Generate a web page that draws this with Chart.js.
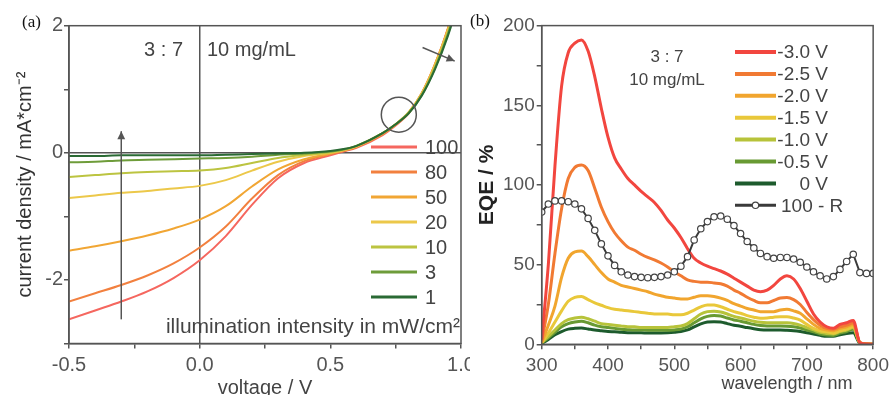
<!DOCTYPE html>
<html>
<head>
<meta charset="utf-8">
<script src="https://cdn.jsdelivr.net/npm/chart.js@4.4.1/dist/chart.umd.min.js"></script>
<style>
    html, body { margin: 0; padding: 0; background: #fff; }
    #jvChart { position: absolute; left: 0; top: 0; }
    #eqeChart { position: absolute; left: 470px; top: 0; background: #fff; }
</style>
</head>
<body>
<canvas id="jvChart" width="500" height="395"></canvas>
<canvas id="eqeChart" width="424" height="395"></canvas>
<script>
// (a) J-V curves, one per illumination intensity (mW/cm2)
const voltage = [-0.5, -0.4, -0.3, -0.2, -0.1, 0, 0.1, 0.2, 0.3, 0.4, 0.5, 0.55, 0.6, 0.7, 0.75, 0.8, 0.85, 0.9, 0.95, 1.0];
const intensityLabels = ['100', '80', '50', '20', '10', '3', '1'];
const j100 = [-2.62, -2.48, -2.34, -2.18, -1.97, -1.69, -1.31, -0.82, -0.40, -0.16, -0.04, 0.02, 0.08, 0.28, 0.43, 0.62, 0.93, 1.38, 1.95, 2.7];
const j80 = [-2.34, -2.21, -2.08, -1.93, -1.74, -1.49, -1.16, -0.72, -0.35, -0.13, -0.02, 0.03, 0.09, 0.29, 0.44, 0.63, 0.94, 1.39, 1.96, 2.7];
const j50 = [-1.54, -1.47, -1.39, -1.30, -1.19, -1.05, -0.84, -0.53, -0.26, -0.10, -0.01, 0.04, 0.10, 0.30, 0.45, 0.64, 0.94, 1.39, 1.95, 2.68];
const j20 = [-0.71, -0.67, -0.63, -0.60, -0.56, -0.52, -0.43, -0.28, -0.14, -0.05, 0.00, 0.04, 0.10, 0.31, 0.45, 0.64, 0.93, 1.37, 1.93, 2.65];
const j10 = [-0.38, -0.35, -0.32, -0.30, -0.29, -0.28, -0.24, -0.16, -0.08, -0.03, 0.01, 0.05, 0.11, 0.31, 0.45, 0.63, 0.92, 1.35, 1.90, 2.6];
const j3 = [-0.15, -0.14, -0.12, -0.11, -0.10, -0.09, -0.08, -0.06, -0.03, -0.01, 0.02, 0.05, 0.11, 0.31, 0.45, 0.63, 0.91, 1.33, 1.87, 2.55];
const j1 = [-0.05, -0.05, -0.04, -0.04, -0.04, -0.04, -0.03, -0.02, -0.01, 0.00, 0.03, 0.06, 0.11, 0.31, 0.45, 0.62, 0.90, 1.31, 1.84, 2.5];
const jvColors = ['#f5675f', '#f2803f', '#f1a634', '#ecc84a', '#bcc441', '#6e9c3a', '#2a6a34'];

// (b) EQE spectra at different bias, plus 100 - R
const wavelength = [300, 310, 320, 330, 340, 350, 360, 370, 380, 390,
    400, 410, 420, 430, 440, 450, 460, 470, 480, 490,
    500, 510, 520, 530, 540, 550, 560, 570, 580, 590,
    600, 610, 620, 630, 640, 650, 660, 670, 680, 690,
    700, 710, 720, 730, 740, 750, 760, 770, 780, 790, 800];
const biasLabels = ['-3.0 V', '-2.5 V', '-2.0 V', '-1.5 V', '-1.0 V', '-0.5 V', '0 V'];
const eqe30 = [3, 50, 112, 162, 183, 189, 191, 184, 168, 148,
    130, 117, 110, 104, 100, 96, 92.5, 89, 84, 78,
    73, 67, 60, 54, 51, 49, 47.5, 46, 44, 41.5,
    39, 36.5, 34, 33, 34, 37, 41, 43, 41, 35,
    27, 19, 14, 11, 10, 12.5, 13.5, 15, 1, 0.2, 0];
const eqe25 = [2, 25, 57, 85, 104, 111, 112.5, 109, 98, 86,
    77, 70, 65, 61, 59, 56.5, 54.5, 53, 51, 48.5,
    45.5, 43, 40.5, 39.5, 39, 39, 38.5, 38, 36.5, 34,
    32, 29.5, 27.5, 26, 26, 27.5, 29, 29.3, 28, 25,
    20, 15.5, 12, 10, 9.5, 11, 12, 13.5, 1.2, 0.2, 0];
const eqe20 = [1, 12, 24, 42, 54, 58, 58.5, 55, 50, 45,
    41, 39, 37, 36, 35, 34, 33, 31.5, 30.5, 29.5,
    29, 28.5, 28.5, 29.5, 30.5, 30.5, 30, 29, 27.5, 25.5,
    24, 22.5, 21.5, 20.5, 20.5, 20.5, 21.5, 22, 21, 19.5,
    16, 12.5, 10, 9, 8.5, 10, 11, 12.5, 1, 0.2, 0];
const eqe15 = [1, 7, 14, 21, 27, 29.5, 30, 28, 26, 24.5,
    23, 22, 21.5, 21, 20.5, 20, 19.5, 19, 19, 19,
    18.5, 18.5, 19.5, 21.5, 23.5, 24.7, 24.6, 23.6, 22, 20.5,
    19.5, 18, 17, 16.3, 16.5, 17, 17.3, 17.3, 16.5, 15.2,
    12.5, 10, 8.5, 7.8, 7, 8.5, 9.5, 11, 1, 0.2, 0];
const eqe10 = [1, 5, 9, 13, 15.5, 16.5, 17, 16, 14.5, 13,
    12.5, 12, 11.5, 11, 11, 10.5, 10.5, 10.5, 10.5, 10.5,
    11, 11.5, 13, 16, 19, 20.5, 20.8, 20.3, 19, 17.5,
    16.5, 15.5, 14.5, 13.8, 13.6, 13.6, 13.6, 13.5, 13, 12,
    10.5, 9, 7.5, 6.8, 6.5, 8, 9, 10.5, 1, 0.2, 0];
const eqe05 = [0.8, 4, 7.5, 11, 13, 14, 14.5, 13.5, 12, 11,
    10.5, 10, 9.5, 9.2, 9, 9, 8.8, 8.8, 8.8, 8.8,
    9, 9.5, 11, 13.5, 16, 17.5, 18, 17.7, 16.5, 15.3,
    14.5, 13.5, 12.5, 11.8, 11.5, 11.5, 11.5, 11.4, 11, 10.2,
    9, 7.8, 6.5, 5.8, 5.5, 7, 8, 9.5, 0.9, 0.2, 0];
const eqe00 = [0.5, 3, 6, 8, 9.5, 10, 10.2, 9.6, 9, 8.5,
    8, 7.8, 7.5, 7.3, 7.2, 7.2, 7.1, 7.1, 7.1, 7.2,
    7.5, 8, 9, 11, 12.8, 14, 14.2, 14, 13, 12,
    11.3, 10.5, 9.8, 9.2, 9, 9, 9, 8.8, 8.5, 8,
    7.3, 6.5, 5.6, 5, 5, 6, 6.8, 7.2, 0.6, 0.1, 0];
const reflect = [83, 88, 90, 90, 89.5, 88, 85, 79, 71.5, 63,
    55.5, 49.5, 45.5, 43.5, 42.5, 42, 41.8, 42, 42.5, 43.5,
    45.5, 49, 55, 65.5, 72.5, 77, 80, 80.5, 78.5, 74.5,
    69.5, 64.5, 60.5, 57, 55, 54, 54.5, 54.5, 53.5, 51.5,
    48.5, 45.5, 43, 41, 42.5, 47, 52, 56.5, 45, 44.5, 44.5];
const eqeColors = ['#f2463f', '#f17a33', '#f1a52e', '#e9c83a', '#b7c33a', '#689a33', '#1d5b2d'];

const FONT = "'Liberation Sans', Arial, sans-serif";
Chart.defaults.font.family = FONT;
Chart.defaults.animation = false;

function toPoints(xs, ys) {
    return xs.map((x, i) => ({ x: x, y: ys[i] }));
}

function drawArrow(ctx, x1, y1, x2, y2) {
    const ang = Math.atan2(y2 - y1, x2 - x1);
    const head = 9;
    ctx.beginPath();
    ctx.moveTo(x1, y1);
    ctx.lineTo(x2, y2);
    ctx.stroke();
    ctx.beginPath();
    ctx.moveTo(x2, y2);
    ctx.lineTo(x2 - head * Math.cos(ang - 0.45), y2 - head * Math.sin(ang - 0.45));
    ctx.lineTo(x2 - head * Math.cos(ang + 0.45), y2 - head * Math.sin(ang + 0.45));
    ctx.closePath();
    ctx.fill();
}

// (a) decorations: frame, arrows, circle, notes and legend
const jvDecor = {
    id: 'jvDecor',
    afterDatasetsDraw(chart) {
        const { ctx, chartArea: a, scales: { x, y } } = chart;
        ctx.save();
        ctx.strokeStyle = '#555';
        ctx.fillStyle = '#555';
        ctx.lineWidth = 1.5;
        ctx.strokeRect(a.left, a.top, a.right - a.left, a.bottom - a.top);

        drawArrow(ctx, x.getPixelForValue(-0.3), y.getPixelForValue(-2.62), x.getPixelForValue(-0.3), y.getPixelForValue(0.34));
        drawArrow(ctx, x.getPixelForValue(0.853), y.getPixelForValue(1.656), x.getPixelForValue(0.976), y.getPixelForValue(1.443));
        ctx.beginPath();
        ctx.arc(x.getPixelForValue(0.762), y.getPixelForValue(0.6), 17.5, 0, Math.PI * 2);
        ctx.stroke();

        ctx.fillStyle = '#444';
        ctx.font = '20px ' + FONT;
        ctx.textBaseline = 'middle';
        ctx.textAlign = 'right';
        ctx.fillText('3 : 7', 183, 50);
        ctx.textAlign = 'left';
        ctx.fillText('10 mg/mL', 207, 50);
        ctx.font = '21px ' + FONT;
        ctx.textAlign = 'right';
        ctx.fillText('illumination intensity in mW/cm\u00B2', 460, 327);

        // legend
        ctx.font = '20px ' + FONT;
        chart.data.datasets.forEach((ds, i) => {
            const ly = 147 + i * 25;
            ctx.strokeStyle = ds.borderColor;
            ctx.lineWidth = 3;
            ctx.beginPath();
            ctx.moveTo(371, ly);
            ctx.lineTo(417, ly);
            ctx.stroke();
            ctx.fillStyle = '#444';
            ctx.textAlign = 'left';
            ctx.fillText(ds.label, 425, ly + 1);
        });

        ctx.fillStyle = '#111';
        ctx.font = '17px "Liberation Serif", "Times New Roman", serif';
        ctx.textAlign = 'left';
        ctx.fillText('(a)', 22, 23);
        ctx.restore();
    }
};

// (b) decorations: frame, notes, legend, x title
const eqeDecor = {
    id: 'eqeDecor',
    afterDatasetsDraw(chart) {
        const { ctx, chartArea: a } = chart;
        ctx.save();
        ctx.strokeStyle = '#555';
        ctx.lineWidth = 1.5;
        ctx.strokeRect(a.left, a.top, a.right - a.left, a.bottom - a.top);

        ctx.fillStyle = '#444';
        ctx.font = '17px ' + FONT;
        ctx.textBaseline = 'middle';
        ctx.textAlign = 'center';
        ctx.fillText('3 : 7', 197, 57);
        ctx.fillText('10 mg/mL', 197, 80);

        ctx.font = '19px ' + FONT;
        chart.data.datasets.forEach((ds, i) => {
            const ly = 52 + i * 21.9;
            ctx.strokeStyle = ds.borderColor;
            ctx.lineWidth = ds.pointRadius ? 3 : 4;
            ctx.beginPath();
            ctx.moveTo(265, ly);
            ctx.lineTo(306, ly);
            ctx.stroke();
            ctx.fillStyle = '#444';
            if (ds.pointRadius) {
                ctx.fillStyle = '#fff';
                ctx.strokeStyle = '#444';
                ctx.lineWidth = 1.2;
                ctx.beginPath();
                ctx.arc(285.5, ly, 3.2, 0, Math.PI * 2);
                ctx.fill();
                ctx.stroke();
                ctx.fillStyle = '#444';
                ctx.textAlign = 'left';
                ctx.fillText(ds.label, 311, ly + 1);
            } else {
                ctx.textAlign = 'right';
                ctx.fillText(ds.label, 358, ly + 1);
            }
        });

        ctx.font = '18px ' + FONT;
        ctx.textAlign = 'center';
        ctx.fillText('wavelength / nm', 317, 384);

        ctx.fillStyle = '#111';
        ctx.font = '17px "Liberation Serif", "Times New Roman", serif';
        ctx.textAlign = 'left';
        ctx.fillText('(b)', 0, 22);
        ctx.restore();
    }
};

const jvSeries = [j100, j80, j50, j20, j10, j3, j1];
new Chart(document.getElementById('jvChart').getContext('2d'), {
    type: 'line',
    data: {
        datasets: jvSeries.map((ys, i) => ({
            label: intensityLabels[i],
            data: toPoints(voltage, ys),
            borderColor: jvColors[i],
            borderWidth: 2,
            pointRadius: 0,
            cubicInterpolationMode: 'monotone',
            order: jvSeries.length - i
        }))
    },
    options: {
        responsive: false,
        layout: { padding: { left: 0, top: 25.7, right: 39, bottom: 0 } },
        plugins: { legend: { display: false }, tooltip: { enabled: false } },
        scales: {
            x: {
                type: 'linear',
                min: -0.5,
                max: 1.0,
                afterFit: scale => { scale.height = 51.5; },
                ticks: {
                    stepSize: 0.25,
                    autoSkip: false,
                    maxRotation: 0,
                    color: '#555',
                    padding: 5,
                    font: { size: 20 },
                    callback: function (value) {
                        return Math.abs(value * 2 - Math.round(value * 2)) < 1e-6 ? value.toFixed(1) : '';
                    }
                },
                grid: {
                    color: c => (c.tick && Math.abs(c.tick.value) < 1e-9 ? '#555' : 'rgba(0,0,0,0)'),
                    tickColor: '#555',
                    tickLength: 5,
                    lineWidth: 1.5
                },
                border: { color: '#555', width: 1.5 },
                title: {
                    display: true,
                    text: 'voltage / V',
                    color: '#444',
                    font: { size: 20 },
                    padding: { top: 0, bottom: -5 }
                }
            },
            y: {
                min: -3,
                max: 2,
                afterFit: scale => { scale.width = 69; },
                ticks: {
                    stepSize: 1,
                    autoSkip: false,
                    color: '#555',
                    padding: 1,
                    font: { size: 20 },
                    callback: function (value) {
                        return value % 2 === 0 ? String(value) : '';
                    }
                },
                grid: {
                    color: c => (c.tick && Math.abs(c.tick.value) < 1e-9 ? '#555' : 'rgba(0,0,0,0)'),
                    tickColor: '#555',
                    tickLength: 5,
                    lineWidth: 1.5
                },
                border: { color: '#555', width: 1.5 },
                title: {
                    display: true,
                    text: 'current density / mA*cm\u207B\u00B2',
                    color: '#333',
                    font: { size: 20 },
                    padding: { top: 13, bottom: 0 }
                }
            }
        }
    },
    plugins: [jvDecor]
});

const eqeSeries = [eqe30, eqe25, eqe20, eqe15, eqe10, eqe05, eqe00];
const eqeDatasets = eqeSeries.map((ys, i) => ({
    label: biasLabels[i],
    data: toPoints(wavelength, ys),
    borderColor: eqeColors[i],
    borderWidth: 3,
    pointRadius: 0,
    cubicInterpolationMode: 'monotone',
    order: i + 1
}));
eqeDatasets.push({
    label: '100 - R',
    data: toPoints(wavelength, reflect),
    borderColor: '#3a3a3a',
    borderWidth: 2,
    pointRadius: 3.2,
    pointBackgroundColor: '#fff',
    pointBorderColor: '#444',
    pointBorderWidth: 1.2,
    tension: 0,
    order: 0
});

new Chart(document.getElementById('eqeChart').getContext('2d'), {
    type: 'line',
    data: { datasets: eqeDatasets },
    options: {
        responsive: false,
        layout: { padding: { left: 0, top: 25.6, right: 16.7, bottom: 0 } },
        plugins: { legend: { display: false }, tooltip: { enabled: false } },
        scales: {
            x: {
                type: 'linear',
                min: 300,
                max: 800,
                afterFit: scale => { scale.height = 50.7; },
                ticks: {
                    stepSize: 50,
                    autoSkip: false,
                    maxRotation: 0,
                    color: '#555',
                    padding: 5,
                    font: { size: 19 },
                    callback: function (value) {
                        return value % 100 === 0 ? String(value) : '';
                    }
                },
                grid: { drawOnChartArea: false, tickColor: '#555', tickLength: 5, lineWidth: 1.5 },
                border: { color: '#555', width: 1.5 }
            },
            y: {
                min: 0,
                max: 200,
                afterFit: scale => { scale.width = 71.7; },
                ticks: {
                    stepSize: 25,
                    autoSkip: false,
                    color: '#555',
                    padding: 2,
                    font: { size: 19 },
                    callback: function (value) {
                        return value % 50 === 0 ? String(value) : '';
                    }
                },
                grid: { drawOnChartArea: false, tickColor: '#555', tickLength: 5, lineWidth: 1.5 },
                border: { color: '#555', width: 1.5 },
                title: {
                    display: true,
                    text: 'EQE / %',
                    color: '#222',
                    font: { size: 21, weight: 'bold' },
                    padding: { top: 5, bottom: 0 }
                }
            }
        }
    },
    plugins: [eqeDecor]
});
</script>
</body>
</html>
